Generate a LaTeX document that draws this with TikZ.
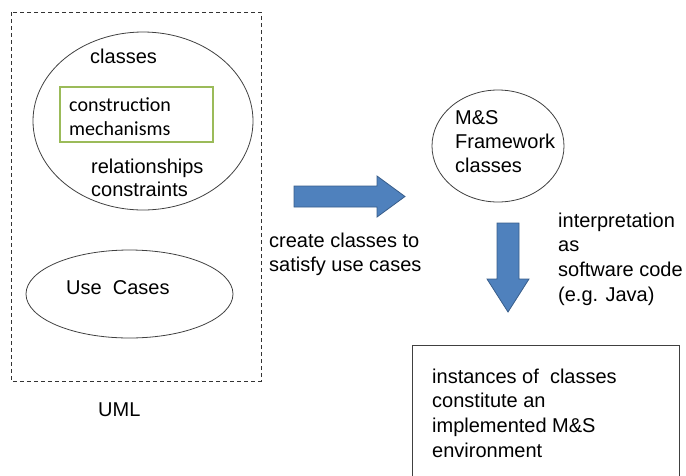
\documentclass[tikz,border=0pt]{standalone}
\usepackage{fontspec}
\setmainfont{Liberation Sans}
\newfontfamily\calfont{Carlito}
\usepackage{xcolor}
\usetikzlibrary{positioning, shapes.geometric}
\definecolor{officegreen}{RGB}{155, 187, 89}
\definecolor{arrowblue}{RGB}{79, 129, 189}
\definecolor{arrowedge}{RGB}{56, 93, 138}

\begin{document}
\begin{tikzpicture}[
  x=1pt, y=-1pt,
  every node/.style={font=\fontsize{20}{24.6}\selectfont},
  label/.style={anchor=north west, inner sep=0pt, align=left},
  oval/.style={ellipse, draw=black!75, line width=0.8pt, inner sep=0pt},
  mechbox/.style={rectangle, draw=officegreen, line width=1.5pt, minimum width=153pt, minimum height=55pt, inner sep=0pt},
  implbox/.style={rectangle, draw=black!75, line width=0.8pt, minimum width=267pt, minimum height=145pt, inner sep=0pt},
  blockarrow/.style={fill=arrowblue, draw=arrowedge, line width=0.8pt}
]
\useasboundingbox (0,0) rectangle (686,475);
\clip (0,0) rectangle (686,475);

\draw[black!80, line width=0.8pt, dash pattern=on 4pt off 3pt] (11,12) rectangle (261,381);

\node[oval, minimum width=220pt, minimum height=178pt] (uml) at (143,121) {};
\node[mechbox] (mech) at (136.5,114.5) {};
\node[oval, minimum width=207pt, minimum height=88pt] (usecases) at (129.5,294) {};
\node[oval, minimum width=132pt, minimum height=112pt] (framework) at (498,146) {};
\node[implbox] (impl) at (545.5,417.5) {};

\node[label] (classes) at (90,48.5) {classes};
\node[label, font=\calfont\fontsize{20}{24.5}\selectfont] (mechtext) at (69,97) {construction\\mechanisms};
\node[label, font=\fontsize{20}{23}\selectfont] (relations) at (91,158.5) {relationships\\constraints};
\node[label] (uctext) at (66,280.5) {Use\ \ Cases};
\node[label] (umltext) at (98,402.7) {UML};
\node[label, font=\fontsize{20}{24}\selectfont] (fwtext) at (455,110.5) {M\&S\\Framework\\classes};
\node[label, font=\fontsize{20}{24.5}\selectfont] (create) at (269,232.5) {create classes to\\satisfy use cases};
\node[label] (interp) at (558,212.5) {interpretation\\as\\software code\\(e.g. Java)};
\node[label] (insttext) at (432,368.5) {instances of\ \ classes\\constitute an\\implemented M\&S\\environment};

\draw[blockarrow] (294,186) -- (377,186) -- (377,176) -- (405,196.5) -- (377,217) -- (377,207) -- (294,207) -- cycle;
\draw[blockarrow] (497,223) -- (519,223) -- (519,279) -- (529,279) -- (508,312) -- (487,279) -- (497,279) -- cycle;

\end{tikzpicture}
\end{document}
